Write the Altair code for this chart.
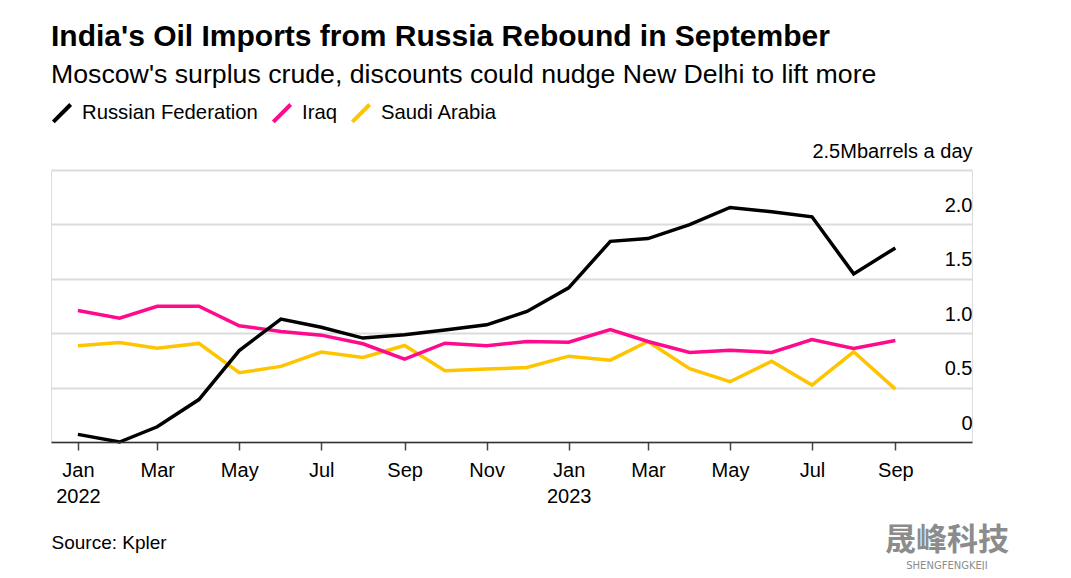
import altair as alt
import pandas as pd

months = [
    "2022-01-01", "2022-02-01", "2022-03-01", "2022-04-01", "2022-05-01", "2022-06-01",
    "2022-07-01", "2022-08-01", "2022-09-01", "2022-10-01", "2022-11-01", "2022-12-01",
    "2023-01-01", "2023-02-01", "2023-03-01", "2023-04-01", "2023-05-01", "2023-06-01",
    "2023-07-01", "2023-08-01", "2023-09-01",
]
russia = [0.07, 0.00, 0.14, 0.39, 0.84, 1.13, 1.055, 0.955, 0.985, 1.03, 1.077, 1.20,
          1.417, 1.844, 1.87, 1.997, 2.156, 2.117, 2.07, 1.545, 1.784]
iraq = [1.208, 1.138, 1.248, 1.248, 1.068, 1.016, 0.982, 0.903, 0.762, 0.908, 0.884, 0.924,
        0.917, 1.034, 0.924, 0.823, 0.844, 0.823, 0.942, 0.86, 0.933]
saudi = [0.884, 0.915, 0.862, 0.906, 0.637, 0.695, 0.826, 0.777, 0.887, 0.655, 0.67, 0.685,
         0.789, 0.752, 0.924, 0.673, 0.554, 0.743, 0.523, 0.829, 0.486]

series = ["Russian Federation", "Iraq", "Saudi Arabia"]
colors = ["#000000", "#FF0A8C", "#FFC400"]
y_ticks = [0, 0.5, 1.0, 1.5, 2.0, 2.5]
x_tick_months = [(2022, 1), (2022, 3), (2022, 5), (2022, 7), (2022, 9), (2022, 11),
                 (2023, 1), (2023, 3), (2023, 5), (2023, 7), (2023, 9)]

rows = []
for name, vals in [("Saudi Arabia", saudi), ("Iraq", iraq), ("Russian Federation", russia)]:
    for m, v in zip(months, vals):
        rows.append({"month": m + "T00:00:00", "country": name, "value": v})
df = pd.DataFrame(rows)

FONT = "Liberation Sans"

x_enc = alt.X(
    "month:T",
    scale=alt.Scale(domain=[alt.DateTime(year=2021, month=12, date=12),
                            alt.DateTime(year=2023, month=10, date=28)], nice=False),
    axis=alt.Axis(
        values=[alt.DateTime(year=y, month=m, date=1) for y, m in x_tick_months],
        labelExpr="month(datum.value) == 0 ? [timeFormat(datum.value, '%b'), timeFormat(datum.value, '%Y')] : timeFormat(datum.value, '%b')",
        labelFont=FONT, labelFontSize=20, labelColor="#000", labelPadding=10,
        labelLineHeight=26, labelBaseline="top",
        tickSize=8, tickColor="#444", tickWidth=1.5,
        domainColor="#333", domainWidth=1.5, grid=False, zindex=1,
        title="Source: Kpler", titleAnchor="start", titleAlign="left",
        titleX=0, titleY=106, titleBaseline="alphabetic",
        titleFont=FONT, titleFontSize=19, titleFontWeight="normal", titleColor="#000",
    ),
)

y_enc = alt.Y(
    "value:Q",
    scale=alt.Scale(domain=[0, 2.5], nice=False),
    axis=alt.Axis(
        orient="right", values=y_ticks,
        labelExpr="datum.value == 2.5 ? '2.5Mbarrels a day' : datum.value == 0 ? '0' : format(datum.value, '.1f')",
        labelAlign="right", labelBaseline="alphabetic", labelOffset=-13, labelPadding=0,
        ticks=False, tickSize=0, domain=False,
        grid=True, gridColor="#dcdcdc", gridWidth=2,
        labelFont=FONT, labelFontSize=20, labelColor="#000", title=None,
    ),
)

color_enc = alt.Color(
    "country:N",
    scale=alt.Scale(domain=series, range=colors),
    legend=alt.Legend(
        orient="none", legendX=0, legendY=-68, direction="horizontal", title=None,
        symbolType="M-1,1L1,-1", symbolSize=300, symbolStrokeWidth=4,
        labelFont=FONT, labelFontSize=20.3, labelColor="#000", labelOffset=9, labelLimit=400,
        columnPadding=7, padding=0,
    ),
)

lines = alt.Chart(df).mark_line(strokeWidth=3.5, strokeCap="butt").encode(
    x=x_enc, y=y_enc, color=color_enc
)

wm1 = alt.Chart(pd.DataFrame({"t": ["晟峰科技"]})).mark_text(
    font="Noto Sans CJK SC", fontSize=31, fontWeight="bold", color="#8c8c8c", align="center", baseline="middle"
).encode(text="t:N", x=alt.value(896), y=alt.value(371))
wm2 = alt.Chart(pd.DataFrame({"t": ["SHENGFENGKEJI"]})).mark_text(
    font="DejaVu Sans", fontSize=10, color="#8c8c8c", align="center", baseline="middle"
).encode(text="t:N", x=alt.value(896), y=alt.value(396))

chart = alt.layer(lines, wm1, wm2).properties(
    width=921, height=272,
    padding={"left": 43, "top": 162, "right": 91, "bottom": 128},
    autosize=alt.AutoSizeParams(type="none"),
    title=alt.TitleParams(
        text="India's Oil Imports from Russia Rebound in September",
        subtitle="Moscow's surplus crude, discounts could nudge New Delhi to lift more",
        anchor="start", font=FONT, fontSize=30, fontWeight="bold", color="#000",
        subtitleFont=FONT, subtitleFontSize=26.7, subtitleColor="#000", subtitlePadding=10,
        offset=13,
    ),
).configure_view(stroke=None).configure(background="white")

chart.save("out.html", embed_options={"renderer": "svg", "actions": False})
